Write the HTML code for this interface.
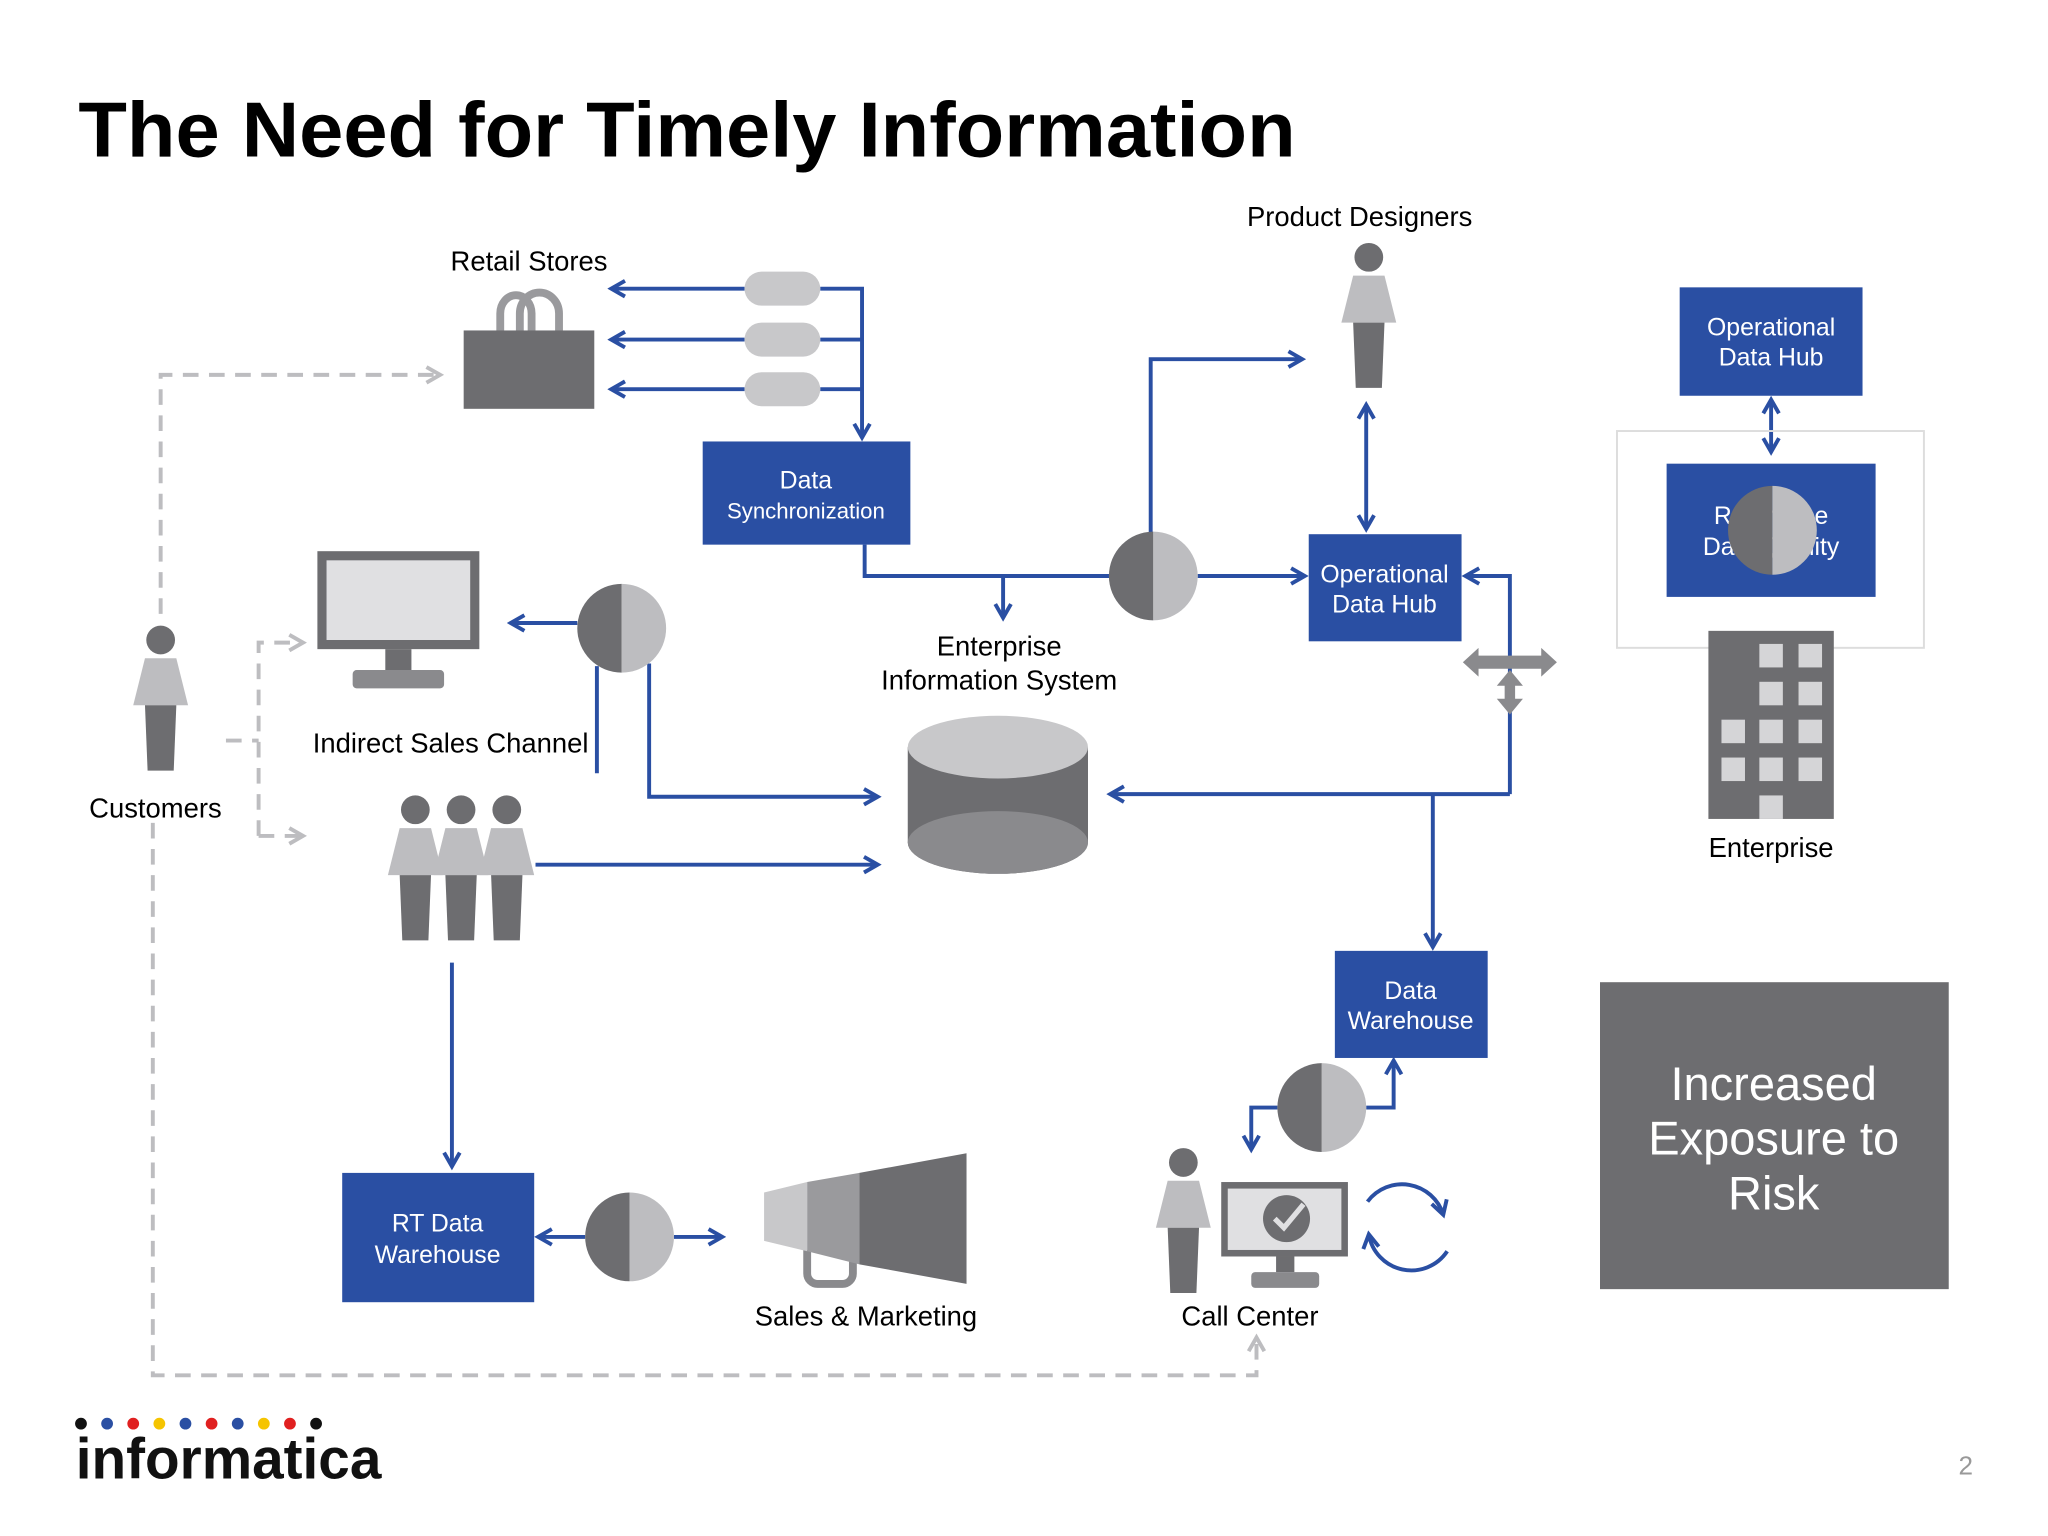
<!DOCTYPE html>
<html><head><meta charset="utf-8"><style>html,body{margin:0;padding:0;background:#fff}svg{display:block}</style></head><body>
<svg width="2048" height="1536" viewBox="0 0 1568 1176" xmlns="http://www.w3.org/2000/svg" font-family="Liberation Sans, sans-serif">
<defs>
<marker id="ab" viewBox="0 0 10 10" refX="8" refY="5" markerWidth="5" markerHeight="5" orient="auto-start-reverse"><path d="M1,1 L8,5 L1,9" fill="none" stroke="#2a4fa3" stroke-width="2"/></marker>
<marker id="ag" viewBox="0 0 10 10" refX="8" refY="5" markerWidth="5" markerHeight="5" orient="auto-start-reverse"><path d="M1,1 L8,5 L1,9" fill="none" stroke="#bdbdc0" stroke-width="2"/></marker>
<g id="person"><circle cx="0" cy="-50" r="11" fill="#6d6d70"/><path d="M-12,-36 H12 L21,0 H-21 Z" fill="#bdbdc0"/><path d="M-12,0 H12 L10,50 H-10 Z" fill="#6d6d70"/></g>
<g id="hc"><path d="M0,-34 A34,34 0 0 0 0,34 Z" fill="#6d6d70"/><path d="M0,-34 A34,34 0 0 1 0,34 Z" fill="#bdbdc0"/></g>
</defs>
<rect width="1568" height="1176" fill="#fff"/>
<text x="60" y="120" font-size="60" font-weight="bold" fill="#000" textLength="932" lengthAdjust="spacingAndGlyphs">The Need for Timely Information</text>

<g fill="none" stroke="#2a4fa3" stroke-width="3">
<line x1="570" y1="221" x2="468" y2="221" marker-end="url(#ab)"/>
<line x1="570" y1="260" x2="468" y2="260" marker-end="url(#ab)"/>
<line x1="570" y1="298" x2="468" y2="298" marker-end="url(#ab)"/>
<path d="M628,221 H660 V335" marker-end="url(#ab)"/>
<line x1="628" y1="260" x2="660" y2="260"/><line x1="628" y1="298" x2="660" y2="298"/>
<path d="M662,417 V441 H850"/>
<line x1="768" y1="441" x2="768" y2="473" marker-end="url(#ab)"/>
<path d="M881,410 V275 H997" marker-end="url(#ab)"/>
<line x1="917" y1="441" x2="999" y2="441" marker-end="url(#ab)"/>
<line x1="1046" y1="310" x2="1046" y2="405" marker-start="url(#ab)" marker-end="url(#ab)"/>
<path d="M1156,608 V441 H1122" marker-end="url(#ab)"/>
<line x1="1156" y1="608" x2="850" y2="608" marker-end="url(#ab)"/>
<line x1="1097" y1="608" x2="1097" y2="725" marker-end="url(#ab)"/>
<line x1="1356" y1="306" x2="1356" y2="346" marker-start="url(#ab)" marker-end="url(#ab)"/>
<line x1="442" y1="477" x2="391" y2="477" marker-end="url(#ab)"/>
<line x1="457" y1="510" x2="457" y2="592"/>
<path d="M497,508 V610 H672" marker-end="url(#ab)"/>
<line x1="410" y1="662" x2="672" y2="662" marker-end="url(#ab)"/>
<line x1="346" y1="737" x2="346" y2="893" marker-end="url(#ab)"/>
<line x1="448" y1="947" x2="412" y2="947" marker-end="url(#ab)"/>
<line x1="516" y1="947" x2="553" y2="947" marker-end="url(#ab)"/>
<path d="M1046,848 H1067 V812" marker-end="url(#ab)"/>
<path d="M978,848 H958 V880" marker-end="url(#ab)"/>
<path d="M1047,920 A33,33 0 0 1 1105,930" marker-end="url(#ab)"/>
<path d="M1108,958 A33,33 0 0 1 1048,945" marker-end="url(#ab)"/>
</g>

<g fill="none" stroke="#bdbdc0" stroke-width="3" stroke-dasharray="12,8">
<path d="M123,470 V287 H337" marker-end="url(#ag)"/>
<line x1="173" y1="567" x2="198" y2="567"/>
<path d="M198,640 V492 H232" marker-end="url(#ag)"/>
<line x1="198" y1="640" x2="232" y2="640" marker-end="url(#ag)"/>
<path d="M117,630 V1053 H962 V1024" marker-end="url(#ag)"/>
</g>

<text x="405" y="207" font-size="21" text-anchor="middle">Retail Stores</text>
<path d="M383,255 V240 A12,14 0 0 1 407,240 V255 M398,255 V240 A15,16 0 0 1 428,240 V255" fill="none" stroke="#9a9a9d" stroke-width="6"/>
<rect x="355" y="253" width="100" height="60" fill="#6d6d70"/>
<rect x="570" y="208" width="58" height="26" rx="13" fill="#c8c8ca"/>
<rect x="570" y="247" width="58" height="26" rx="13" fill="#c8c8ca"/>
<rect x="570" y="285" width="58" height="26" rx="13" fill="#c8c8ca"/>

<rect x="538" y="338" width="159" height="79" fill="#2a4fa3"/>
<text x="617" y="374" font-size="19" fill="#fff" text-anchor="middle">Data</text>
<text x="617" y="397" font-size="17" fill="#fff" text-anchor="middle">Synchronization</text>

<use href="#hc" x="883" y="441"/>
<text x="1041" y="173" font-size="21" text-anchor="middle">Product Designers</text>
<use href="#person" x="1048" y="247"/>

<rect x="1002" y="409" width="117" height="82" fill="#2a4fa3"/>
<text x="1060" y="446" font-size="19" fill="#fff" text-anchor="middle">Operational</text>
<text x="1060" y="469" font-size="19" fill="#fff" text-anchor="middle">Data Hub</text>

<g fill="#8a8a8d"><path d="M1120,507 L1132,496 V502 H1180 V496 L1192,507 L1180,518 V512 H1132 V518 Z"/><path d="M1156,513 L1166,525 H1160 V535 H1166 L1156,547 L1146,535 H1152 V525 H1146 Z"/></g>

<rect x="1286" y="220" width="140" height="83" fill="#2a4fa3"/>
<text x="1356" y="257" font-size="19" fill="#fff" text-anchor="middle">Operational</text>
<text x="1356" y="280" font-size="19" fill="#fff" text-anchor="middle">Data Hub</text>
<rect x="1238" y="330" width="235" height="166" fill="none" stroke="#ddd" stroke-width="1.5"/>
<rect x="1276" y="355" width="160" height="102" fill="#2a4fa3"/>
<text x="1356" y="401" font-size="19" fill="#fff" text-anchor="middle">Reference</text>
<text x="1356" y="425" font-size="19" fill="#fff" text-anchor="middle">Data Quality</text>
<use href="#hc" x="1357" y="406"/>

<rect x="1308" y="483" width="96" height="144" fill="#6d6d70"/>
<g fill="#d5d5d7">
<rect x="1347" y="493" width="18" height="18"/><rect x="1377" y="493" width="18" height="18"/>
<rect x="1347" y="522" width="18" height="18"/><rect x="1377" y="522" width="18" height="18"/>
<rect x="1318" y="551" width="18" height="18"/><rect x="1347" y="551" width="18" height="18"/><rect x="1377" y="551" width="18" height="18"/>
<rect x="1318" y="580" width="18" height="18"/><rect x="1347" y="580" width="18" height="18"/><rect x="1377" y="580" width="18" height="18"/>
<rect x="1347" y="609" width="18" height="18"/></g>
<text x="1356" y="656" font-size="21" text-anchor="middle">Enterprise</text>

<rect x="1225" y="752" width="267" height="235" fill="#6d6d70"/>
<g font-size="36" fill="#fff" text-anchor="middle"><text x="1358" y="842">Increased</text><text x="1358" y="884">Exposure to</text><text x="1358" y="926">Risk</text></g>

<rect x="243" y="422" width="124" height="75" fill="#6d6d70"/>
<rect x="250" y="429" width="110" height="61" fill="#e0e0e2"/>
<rect x="295" y="497" width="20" height="16" fill="#6d6d70"/>
<rect x="270" y="513" width="70" height="14" rx="3" fill="#8a8a8d"/>
<use href="#hc" x="476" y="481"/>
<text x="345" y="576" font-size="21" text-anchor="middle">Indirect Sales Channel</text>

<use href="#person" x="123" y="540"/>
<text x="119" y="626" font-size="21" text-anchor="middle">Customers</text>

<g><use href="#person" x="318" y="670"/><use href="#person" x="353" y="670"/><use href="#person" x="388" y="670"/></g>

<text x="765" y="502" font-size="21" text-anchor="middle">Enterprise</text>
<text x="765" y="528" font-size="21" text-anchor="middle">Information System</text>
<path d="M695,572 V645 A69,24 0 0 0 833,645 V572 Z" fill="#6d6d70"/>
<ellipse cx="764" cy="645" rx="69" ry="24" fill="#8a8a8d"/>
<ellipse cx="764" cy="572" rx="69" ry="24" fill="#c8c8ca"/>

<rect x="262" y="898" width="147" height="99" fill="#2a4fa3"/>
<text x="335" y="943" font-size="19" fill="#fff" text-anchor="middle">RT Data</text>
<text x="335" y="967" font-size="19" fill="#fff" text-anchor="middle">Warehouse</text>
<use href="#hc" x="482" y="947"/>

<path d="M618,957 V975 A8,8 0 0 0 626,983 H645 A8,8 0 0 0 653,975 V960" fill="none" stroke="#8a8a8d" stroke-width="6"/>
<path d="M585,913 L618,905 V958 L585,950 Z" fill="#c8c8ca"/>
<path d="M618,905 L658,898 V968 L618,958 Z" fill="#9a9a9d"/>
<path d="M658,898 L740,883 V983 L658,968 Z" fill="#6d6d70"/>
<text x="663" y="1015" font-size="21" text-anchor="middle">Sales &amp; Marketing</text>

<rect x="1022" y="728" width="117" height="82" fill="#2a4fa3"/>
<text x="1080" y="765" font-size="19" fill="#fff" text-anchor="middle">Data</text>
<text x="1080" y="788" font-size="19" fill="#fff" text-anchor="middle">Warehouse</text>
<use href="#hc" x="1012" y="848"/>

<use href="#person" x="906" y="940"/>
<rect x="935" y="905" width="97" height="57" fill="#6d6d70"/>
<rect x="940" y="910" width="87" height="47" fill="#e0e0e2"/>
<circle cx="985" cy="933" r="18" fill="#6d6d70"/>
<path d="M976,933 L983,940 L998,922" fill="none" stroke="#e0e0e2" stroke-width="4"/>
<rect x="977" y="962" width="14" height="12" fill="#6d6d70"/>
<rect x="958" y="974" width="52" height="12" rx="3" fill="#8a8a8d"/>
<text x="957" y="1015" font-size="21" text-anchor="middle">Call Center</text>

<g>
<circle cx="62" cy="1090" r="4.5" fill="#111"/><circle cx="82" cy="1090" r="4.5" fill="#2a4fa3"/><circle cx="102" cy="1090" r="4.5" fill="#e02020"/><circle cx="122" cy="1090" r="4.5" fill="#f5c400"/><circle cx="142" cy="1090" r="4.5" fill="#2a4fa3"/><circle cx="162" cy="1090" r="4.5" fill="#e02020"/><circle cx="182" cy="1090" r="4.5" fill="#2a4fa3"/><circle cx="202" cy="1090" r="4.5" fill="#f5c400"/><circle cx="222" cy="1090" r="4.5" fill="#e02020"/><circle cx="242" cy="1090" r="4.5" fill="#111"/>
</g>
<text x="58" y="1132" font-size="44" font-weight="bold" fill="#111" textLength="234" lengthAdjust="spacingAndGlyphs">informatica</text>
<text x="1505" y="1129" font-size="20" fill="#999" text-anchor="middle">2</text>
</svg>
</body></html>
